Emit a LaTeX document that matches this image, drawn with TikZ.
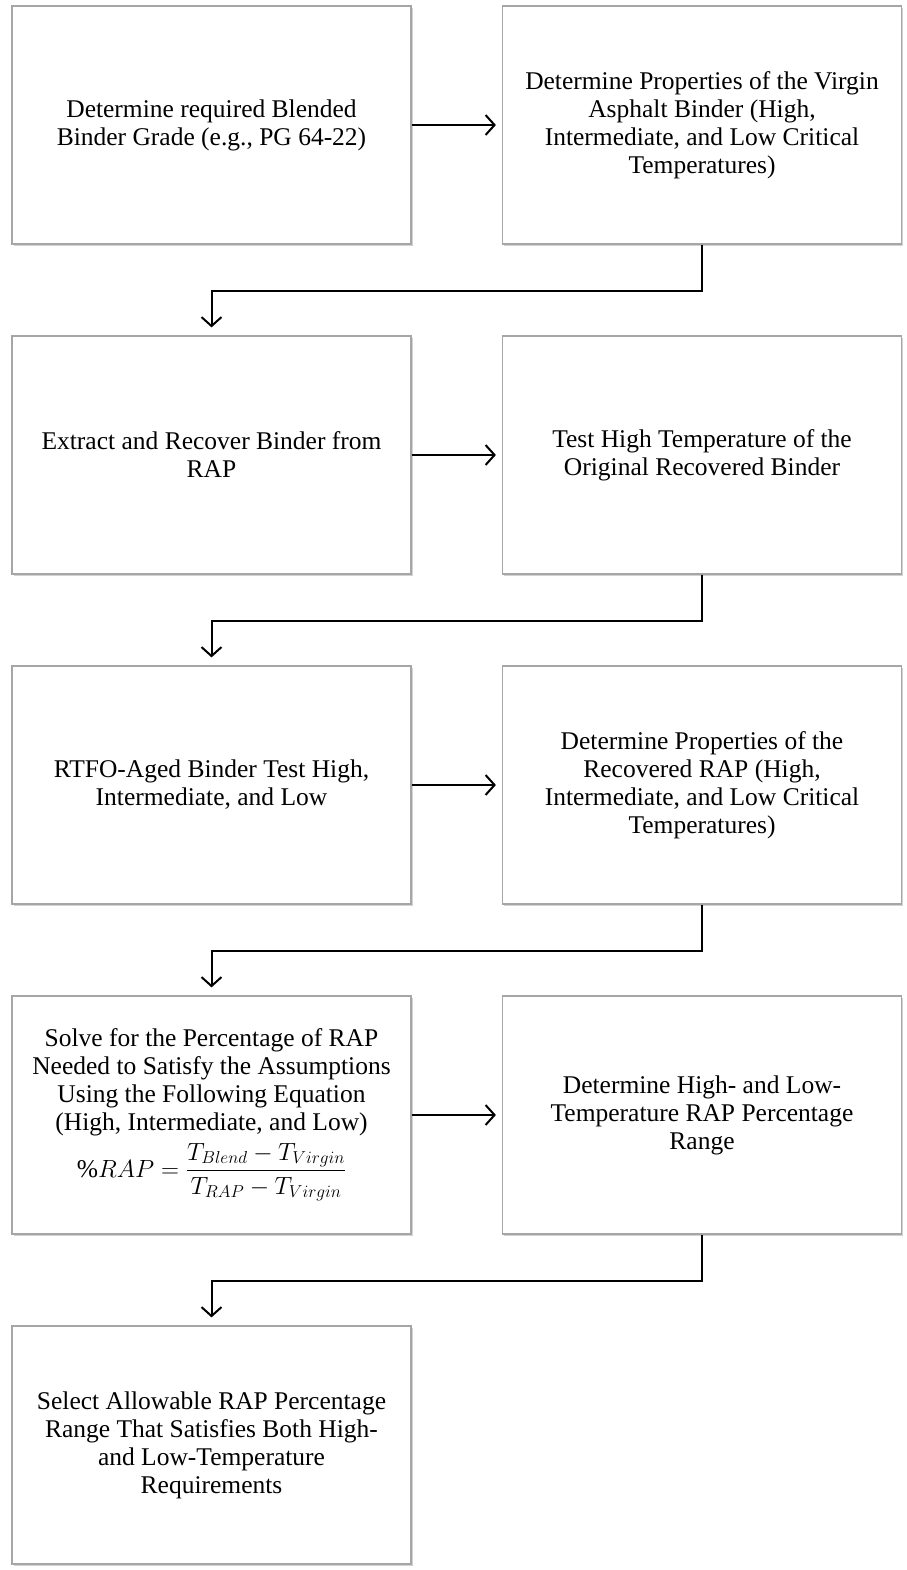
\documentclass[tikz,border=0pt]{standalone}
\usepackage{amsmath}
\usepackage{fontspec}
\setmainfont{Liberation Serif}
\usetikzlibrary{arrows.meta,shadows}

\begin{document}
\begin{tikzpicture}[x=1pt,y=-1pt,
    stepbox/.style={draw=gray!70, line width=1.2pt, fill=white,
        minimum width=399pt, minimum height=238pt, inner sep=0pt,
        align=center, font=\fontsize{25.5}{28}\selectfont,
        drop shadow={shadow xshift=1.5pt, shadow yshift=-2pt, opacity=0.35}},
    arr/.style={line width=2pt, -{Straight Barb[length=9pt,width=20pt,line width=2pt]}}]
    \useasboundingbox (0,0) rectangle (906,1570);

    % left and right columns
    \node[stepbox] (grade) at (211.5,125) {Determine required Blended\\Binder Grade (e.g., PG 64-22)};
    \node[stepbox] (virgin) at (702,125) {Determine Properties of the Virgin\\Asphalt Binder (High,\\Intermediate, and Low Critical\\Temperatures)};
    \node[stepbox] (extract) at (211.5,455) {Extract and Recover Binder from\\RAP};
    \node[stepbox] (hightest) at (702,455) {Test High Temperature of the\\Original Recovered Binder};
    \node[stepbox] (rtfo) at (211.5,785) {RTFO-Aged Binder Test High,\\Intermediate, and Low};
    \node[stepbox] (recovered) at (702,785) {Determine Properties of the\\Recovered RAP (High,\\Intermediate, and Low Critical\\Temperatures)};
    \node[stepbox] (solve) at (211.5,1115) {Solve for the Percentage of RAP\\Needed to Satisfy the Assumptions\\Using the Following Equation\\(High, Intermediate, and Low)\\[6pt]
        $\displaystyle \%RAP=\frac{T_{Blend}-T_{Virgin}}{T_{RAP}-T_{Virgin}}$};
    \node[stepbox] (range) at (702,1115) {Determine High- and Low-\\Temperature RAP Percentage\\Range};
    \node[stepbox] (select) at (211.5,1445) {Select Allowable RAP Percentage\\Range That Satisfies Both High-\\and Low-Temperature\\Requirements};

    % connectors
    \draw[arr, shorten >=6pt] (grade.east) -- (virgin.west);
    \draw[arr, shorten >=8pt] (virgin.south) -- ++(0,46) -| (extract.north);
    \draw[arr, shorten >=6pt] (extract.east) -- (hightest.west);
    \draw[arr, shorten >=8pt] (hightest.south) -- ++(0,46) -| (rtfo.north);
    \draw[arr, shorten >=6pt] (rtfo.east) -- (recovered.west);
    \draw[arr, shorten >=8pt] (recovered.south) -- ++(0,46) -| (solve.north);
    \draw[arr, shorten >=6pt] (solve.east) -- (range.west);
    \draw[arr, shorten >=8pt] (range.south) -- ++(0,46) -| (select.north);
\end{tikzpicture}
\end{document}
